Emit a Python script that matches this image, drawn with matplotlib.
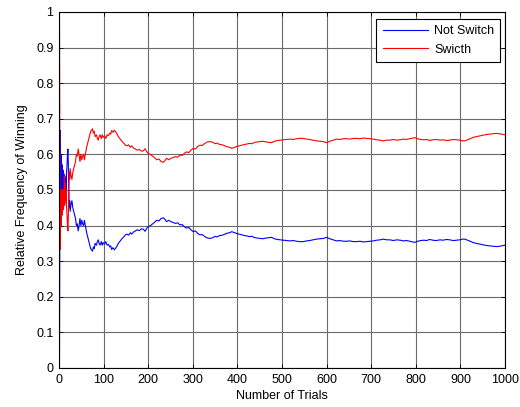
import matplotlib
matplotlib.use("Agg")
import matplotlib.pyplot as plt

trials = [1, 2, 3, 4, 5, 6, 7, 8, 9, 10,
          11, 12, 13, 14, 15, 16, 17, 18, 19, 20,
          21, 22, 23, 24, 25, 27, 29, 31, 33, 35,
          37, 39, 41, 43, 45, 47, 49, 51, 53, 55,
          57, 59, 62, 65, 67, 69, 71, 73, 75, 77,
          79, 81, 84, 86, 88, 90, 92, 95, 97, 99,
          102, 105, 108, 111, 114, 116, 118, 121, 124, 126,
          129, 131, 133, 136, 139, 141, 145, 149, 152, 156,
          160, 163, 167, 170, 175, 180, 185, 189, 193, 197,
          201, 205, 210, 215, 219, 224, 229, 234, 238, 241,
          246, 251, 256, 261, 266, 271, 276, 281, 286, 291,
          296, 301, 306, 311, 316, 321, 327, 333, 339, 345,
          350, 354, 360, 366, 372, 378, 383, 387, 392, 398,
          404, 410, 416, 421, 427, 433, 439, 445, 451, 457,
          464, 470, 477, 483, 490, 496, 503, 510, 518, 525,
          533, 540, 548, 555, 562, 570, 577, 585, 593, 600,
          607, 615, 622, 630, 638, 645, 652, 660, 667, 675,
          682, 690, 697, 705, 712, 720, 727, 735, 742, 750,
          757, 765, 772, 779, 787, 793, 798, 804, 811, 818,
          824, 831, 838, 846, 854, 861, 869, 876, 884, 891,
          899, 905, 910, 916, 922, 929, 936, 944, 951, 959,
          966, 973, 981, 988, 996, 1000]

not_switch = [0.0, 0.5, 0.667, 0.5, 0.6, 0.5, 0.571, 0.5, 0.556, 0.5,
              0.545, 0.46, 0.54, 0.48, 0.53, 0.5, 0.55, 0.57, 0.60, 0.615,
              0.57, 0.50, 0.45, 0.47, 0.44, 0.46, 0.47, 0.45, 0.44, 0.43,
              0.42, 0.40, 0.405, 0.385, 0.40, 0.42, 0.40, 0.415, 0.405, 0.40,
              0.415, 0.40, 0.38, 0.365, 0.355, 0.345, 0.335, 0.332, 0.328, 0.34,
              0.335, 0.35, 0.345, 0.355, 0.36, 0.35, 0.345, 0.355, 0.345, 0.352,
              0.348, 0.355, 0.345, 0.347, 0.34, 0.343, 0.333, 0.338, 0.332, 0.335,
              0.34, 0.345, 0.35, 0.355, 0.36, 0.363, 0.368, 0.374, 0.376, 0.373,
              0.38, 0.376, 0.382, 0.384, 0.388, 0.386, 0.391, 0.39, 0.384, 0.393,
              0.398, 0.400, 0.405, 0.41, 0.415, 0.413, 0.42, 0.422, 0.417, 0.411,
              0.415, 0.411, 0.409, 0.406, 0.408, 0.402, 0.403, 0.397, 0.393, 0.395,
              0.388, 0.383, 0.385, 0.378, 0.374, 0.375, 0.369, 0.365, 0.364, 0.366,
              0.370, 0.368, 0.372, 0.373, 0.376, 0.379, 0.38, 0.383, 0.381, 0.378,
              0.376, 0.374, 0.372, 0.371, 0.369, 0.370, 0.366, 0.365, 0.364, 0.363,
              0.365, 0.366, 0.367, 0.363, 0.361, 0.360, 0.359, 0.358, 0.357, 0.358,
              0.356, 0.355, 0.355, 0.357, 0.358, 0.360, 0.362, 0.363, 0.364, 0.367,
              0.363, 0.360, 0.357, 0.358, 0.356, 0.356, 0.357, 0.355, 0.355, 0.356,
              0.354, 0.355, 0.356, 0.357, 0.359, 0.360, 0.362, 0.360, 0.360, 0.358,
              0.360, 0.359, 0.357, 0.358, 0.356, 0.354, 0.353, 0.356, 0.358, 0.359,
              0.358, 0.361, 0.359, 0.358, 0.360, 0.359, 0.361, 0.360, 0.358, 0.359,
              0.360, 0.362, 0.362, 0.359, 0.356, 0.352, 0.350, 0.348, 0.346, 0.344,
              0.343, 0.342, 0.341, 0.342, 0.344, 0.345]

switch = [1.0, 0.5, 0.333, 0.5, 0.4, 0.5, 0.429, 0.5, 0.444, 0.5,
          0.455, 0.54, 0.46, 0.52, 0.47, 0.5, 0.45, 0.43, 0.40, 0.385,
          0.43, 0.50, 0.55, 0.53, 0.56, 0.54, 0.53, 0.55, 0.56, 0.57,
          0.58, 0.60, 0.595, 0.615, 0.60, 0.58, 0.60, 0.585, 0.595, 0.60,
          0.585, 0.60, 0.62, 0.635, 0.645, 0.655, 0.665, 0.668, 0.672, 0.66,
          0.665, 0.65, 0.655, 0.645, 0.64, 0.65, 0.655, 0.645, 0.655, 0.648,
          0.652, 0.645, 0.655, 0.653, 0.66, 0.657, 0.667, 0.662, 0.668, 0.665,
          0.66, 0.655, 0.65, 0.645, 0.64, 0.637, 0.632, 0.626, 0.624, 0.627,
          0.62, 0.624, 0.618, 0.616, 0.612, 0.614, 0.609, 0.61, 0.616, 0.607,
          0.602, 0.600, 0.595, 0.59, 0.585, 0.587, 0.58, 0.578, 0.583, 0.589,
          0.585, 0.589, 0.591, 0.594, 0.592, 0.598, 0.597, 0.603, 0.607, 0.605,
          0.612, 0.617, 0.615, 0.622, 0.626, 0.625, 0.631, 0.635, 0.636, 0.634,
          0.630, 0.632, 0.628, 0.627, 0.624, 0.621, 0.62, 0.617, 0.619, 0.622,
          0.624, 0.626, 0.628, 0.629, 0.631, 0.630, 0.634, 0.635, 0.636, 0.637,
          0.635, 0.634, 0.633, 0.637, 0.639, 0.640, 0.641, 0.642, 0.643, 0.642,
          0.644, 0.645, 0.645, 0.643, 0.642, 0.640, 0.638, 0.637, 0.636, 0.633,
          0.637, 0.640, 0.643, 0.642, 0.644, 0.644, 0.643, 0.645, 0.645, 0.644,
          0.646, 0.645, 0.644, 0.643, 0.641, 0.640, 0.638, 0.640, 0.640, 0.642,
          0.640, 0.641, 0.643, 0.642, 0.644, 0.646, 0.647, 0.644, 0.642, 0.641,
          0.642, 0.639, 0.641, 0.642, 0.640, 0.641, 0.639, 0.640, 0.642, 0.641,
          0.640, 0.638, 0.638, 0.641, 0.644, 0.648, 0.650, 0.652, 0.654, 0.656,
          0.657, 0.658, 0.659, 0.658, 0.656, 0.655]

x_ticks = [0, 100, 200, 300, 400, 500, 600, 700, 800, 900, 1000]
y_ticks = [0, 0.1, 0.2, 0.3, 0.4, 0.5, 0.6, 0.7, 0.8, 0.9, 1]
y_tick_labels = ["0", "0.1", "0.2", "0.3", "0.4", "0.5", "0.6", "0.7", "0.8", "0.9", "1"]

plt.rcParams["font.family"] = ["Liberation Sans", "DejaVu Sans"]
plt.rcParams["font.size"] = 9

fig = plt.figure(figsize=(5.2, 4.07), dpi=100)
ax = fig.add_axes([59 / 520, 39 / 407, 446 / 520, 356 / 407])

ax.plot(trials, not_switch, color="#0000ff", lw=0.8, label="Not Switch")
ax.plot(trials, switch, color="#ff0000", lw=0.8, label="Swicth")

ax.set_xlim(0, 1000)
ax.set_ylim(0, 1)
ax.set_xticks(x_ticks)
ax.set_yticks(y_ticks)
ax.set_yticklabels(y_tick_labels)
ax.grid(True, color="#6a6a6a", lw=0.8, ls="-")
ax.set_axisbelow(True)
ax.tick_params(direction="in", top=True, right=True, length=3, width=0.6,
               labelsize=9, colors="black")
ax.tick_params(axis="x", pad=4)
ax.tick_params(axis="y", pad=4)
for s in ax.spines.values():
    s.set_linewidth(0.8)
    s.set_color("black")

ax.set_xlabel("Number of Trials", fontsize=9, labelpad=3)
ax.set_ylabel("Relative Frequency of Winning", fontsize=9, labelpad=6)

leg = ax.legend(loc="upper right", bbox_to_anchor=(0.9895, 0.98), fontsize=9,
                frameon=True, fancybox=False, framealpha=1, edgecolor="black",
                handlelength=3.6, handletextpad=0.5, borderpad=0.5,
                labelspacing=0.5, borderaxespad=0)
leg.get_frame().set_linewidth(0.8)

fig.savefig("out.png", dpi=100)
